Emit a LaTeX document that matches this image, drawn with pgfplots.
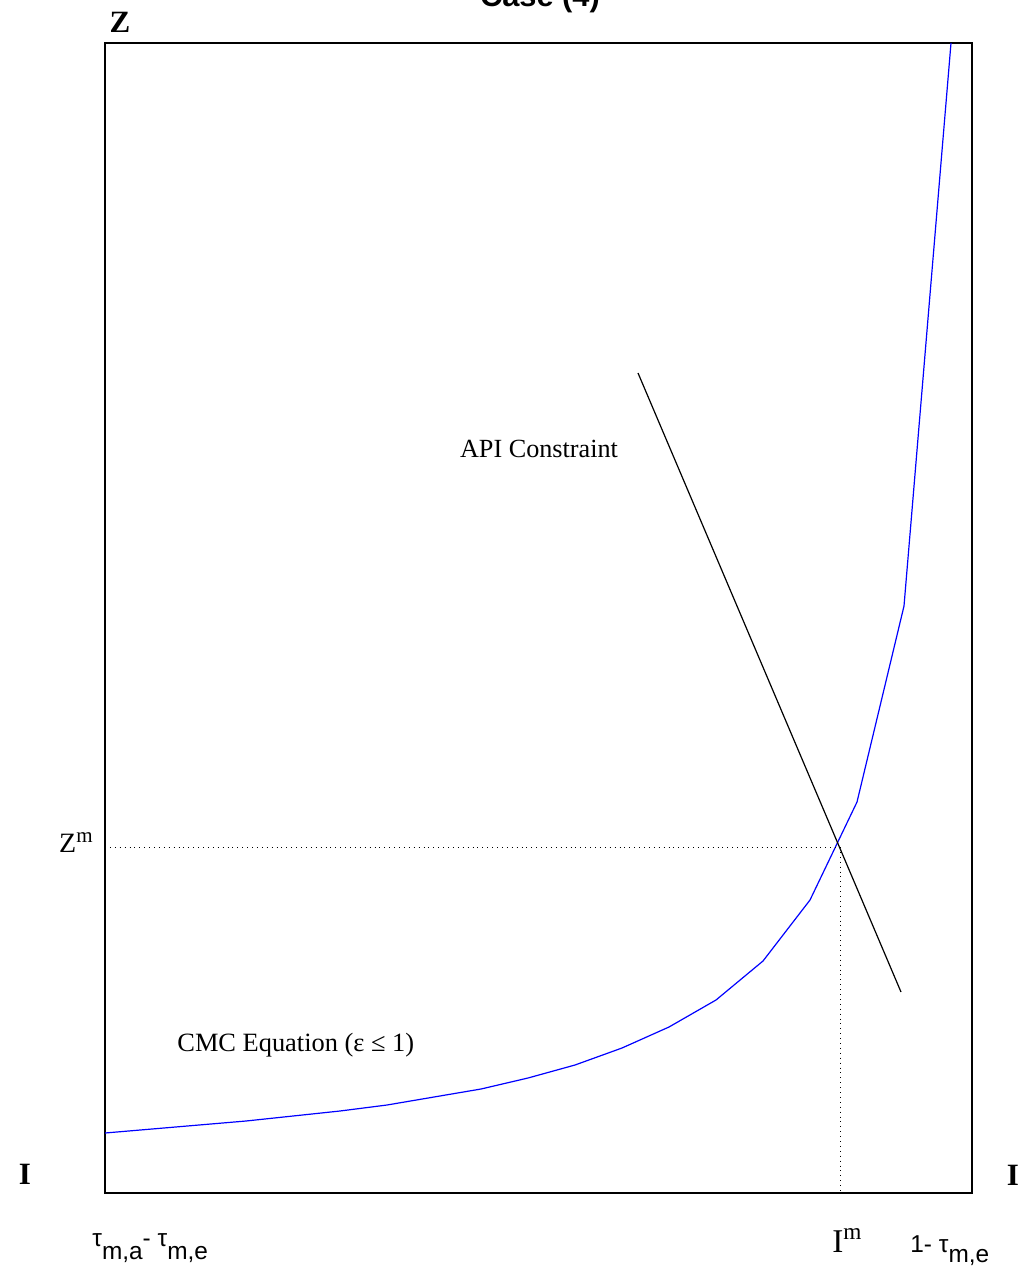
\documentclass[border=0pt]{standalone}
\usepackage{pgfplots}
\pgfplotsset{compat=1.18}
\usepackage{fontspec}
\setmainfont{Liberation Serif}
\newfontfamily\sansf{Liberation Sans}
\begin{document}
\begin{tikzpicture}
\useasboundingbox (0,0) rectangle (518pt,634.5pt);
\begin{axis}[
  at={(52.5pt,38pt)}, anchor=south west,
  width=433.5pt, height=575pt, scale only axis,
  xmin=105, xmax=972, ymin=43, ymax=1193, y dir=reverse,
  xtick=\empty, ytick=\empty,
  axis line style={black, line width=0.6pt},
  clip=true, clip mode=individual,
]
\addplot[blue, line width=0.6pt] coordinates {
(105,1133) (152,1129) (199,1125) (246,1121) (293,1116) (340,1111) (387,1105)
(434,1097) (481,1089) (528,1078) (575,1065) (622,1048) (669,1027) (716,1000)
(763,961) (810,900) (857,802) (904,606) (951,43)};
\addplot[black, line width=0.6pt] coordinates {(638,373) (901,992)};
\addplot[black, dotted, line width=0.45pt] coordinates {(105,847) (839,847)};
\addplot[black, dotted, line width=0.45pt] coordinates {(840,847) (840,1193)};
\end{axis}
% labels in picture coordinates: pixel (px,py) -> (0.5*px pt, (1269-py)*0.5 pt)
\begin{scope}[x=0.5pt, y=-0.5pt, shift={(0,634.5pt)}]
\node[anchor=base, inner sep=0] at (540,7) {\sansf\bfseries\fontsize{15.4}{18}\selectfont Case (4)};
\node[anchor=center, inner sep=0] at (120,22) {\bfseries\fontsize{15.5}{18}\selectfont Z};
\node[anchor=center, inner sep=0] at (25,1174) {\bfseries\fontsize{15.5}{18}\selectfont I};
\node[anchor=center, inner sep=0] at (1013,1175) {\bfseries\fontsize{15.5}{18}\selectfont I};
\node[anchor=base east, inner sep=0] at (93,853) {\fontsize{14}{16}\selectfont Z\raisebox{5pt}{\fontsize{10.5}{12}\selectfont m}};
\node[anchor=base west, inner sep=0] at (832,1252) {\fontsize{16.6}{19}\selectfont I\textsuperscript{m}};
\node[anchor=base west, inner sep=0] at (910,1252) {\sansf\fontsize{12.2}{14}\selectfont 1- τ\raisebox{-5.5pt}{m,e}};
\node[anchor=base west, inner sep=0] at (92,1247) {\sansf\fontsize{12.2}{14}\selectfont τ\raisebox{-6.5pt}{m,a}- τ\raisebox{-6.5pt}{m,e}};
\node[anchor=base, inner sep=0] at (539,458) {\fontsize{13.1}{15}\selectfont API Constraint};
\node[anchor=base west, inner sep=0] at (177,1052) {\fontsize{13.2}{15}\selectfont CMC Equation (ε ≤ 1)};
\end{scope}
\end{tikzpicture}
\end{document}
